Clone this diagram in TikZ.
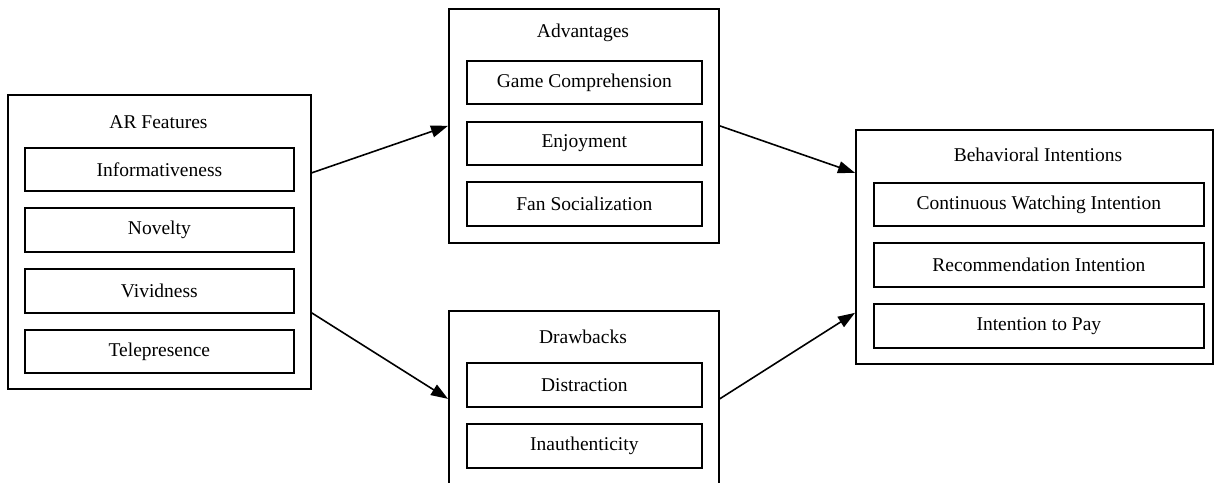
\documentclass[tikz,border=0pt]{standalone}
\usepackage{fontspec}
\setmainfont{Liberation Serif}
\usetikzlibrary{arrows.meta}
\begin{document}
\begin{tikzpicture}[x=1pt,y=-1pt,
  outerbox/.style={draw, line width=1.7pt, anchor=north west, inner sep=0pt},
  itembox/.style={draw, line width=1.7pt, anchor=north west, inner sep=0pt, font=\fontsize{19.5}{22}\selectfont},
  ttl/.style={font=\fontsize{19.5}{22}\selectfont, inner sep=0pt},
  conn/.style={line width=1.6pt, -{Triangle[length=17pt,width=12pt]}}]
\useasboundingbox (0,0) rectangle (1214,482);
\clip (0,0) rectangle (1214,482);
% AR Features
\node[outerbox, minimum width=303pt, minimum height=294pt] (ar) at (7,94) {};
\node[ttl] (art) at (158.5,122) {AR Features};
\node[itembox, minimum width=269pt, minimum height=43pt] (ar1) at (24,147) {Informativeness};
\node[itembox, minimum width=269pt, minimum height=44pt] (ar2) at (24,207) {Novelty};
\node[itembox, minimum width=269pt, minimum height=44pt] (ar3) at (24,268) {Vividness};
\node[itembox, minimum width=269pt, minimum height=43pt] (ar4) at (24,329) {Telepresence};
% Advantages
\node[outerbox, minimum width=270pt, minimum height=234pt] (adv) at (448,8) {};
\node[ttl] (advt) at (583,33) {Advantages};
\node[itembox, minimum width=235pt, minimum height=43pt] (adv1) at (466,60) {Game Comprehension};
\node[itembox, minimum width=235pt, minimum height=43pt] (adv2) at (466,121) {Enjoyment};
\node[itembox, minimum width=235pt, minimum height=44pt] (adv3) at (466,181) {Fan Socialization};
% Drawbacks
\node[outerbox, minimum width=270pt, minimum height=174pt] (drw) at (448,310) {};
\node[ttl] (drwt) at (583,337) {Drawbacks};
\node[itembox, minimum width=235pt, minimum height=44pt] (drw1) at (466,362) {Distraction};
\node[itembox, minimum width=235pt, minimum height=44pt] (drw2) at (466,423) {Inauthenticity};
% Behavioral Intentions
\node[outerbox, minimum width=357pt, minimum height=234pt] (bi) at (855,129) {};
\node[ttl] (bit) at (1038,155) {Behavioral Intentions};
\node[itembox, minimum width=330pt, minimum height=43pt] (bi1) at (873,182) {Continuous Watching Intention};
\node[itembox, minimum width=330pt, minimum height=44pt] (bi2) at (873,242) {Recommendation Intention};
\node[itembox, minimum width=330pt, minimum height=44pt] (bi3) at (873,303) {Intention to Pay};
% connectors
\draw[conn] ([yshift=69pt]ar.east) -- (adv.west);
\draw[conn] ([yshift=-71pt]ar.east) -- ([yshift=-1pt]drw.west);
\draw[conn] (adv.east) -- ([yshift=74pt]bi.west);
\draw[conn] ([yshift=-1pt]drw.east) -- ([yshift=-66pt]bi.west);
\end{tikzpicture}
\end{document}
